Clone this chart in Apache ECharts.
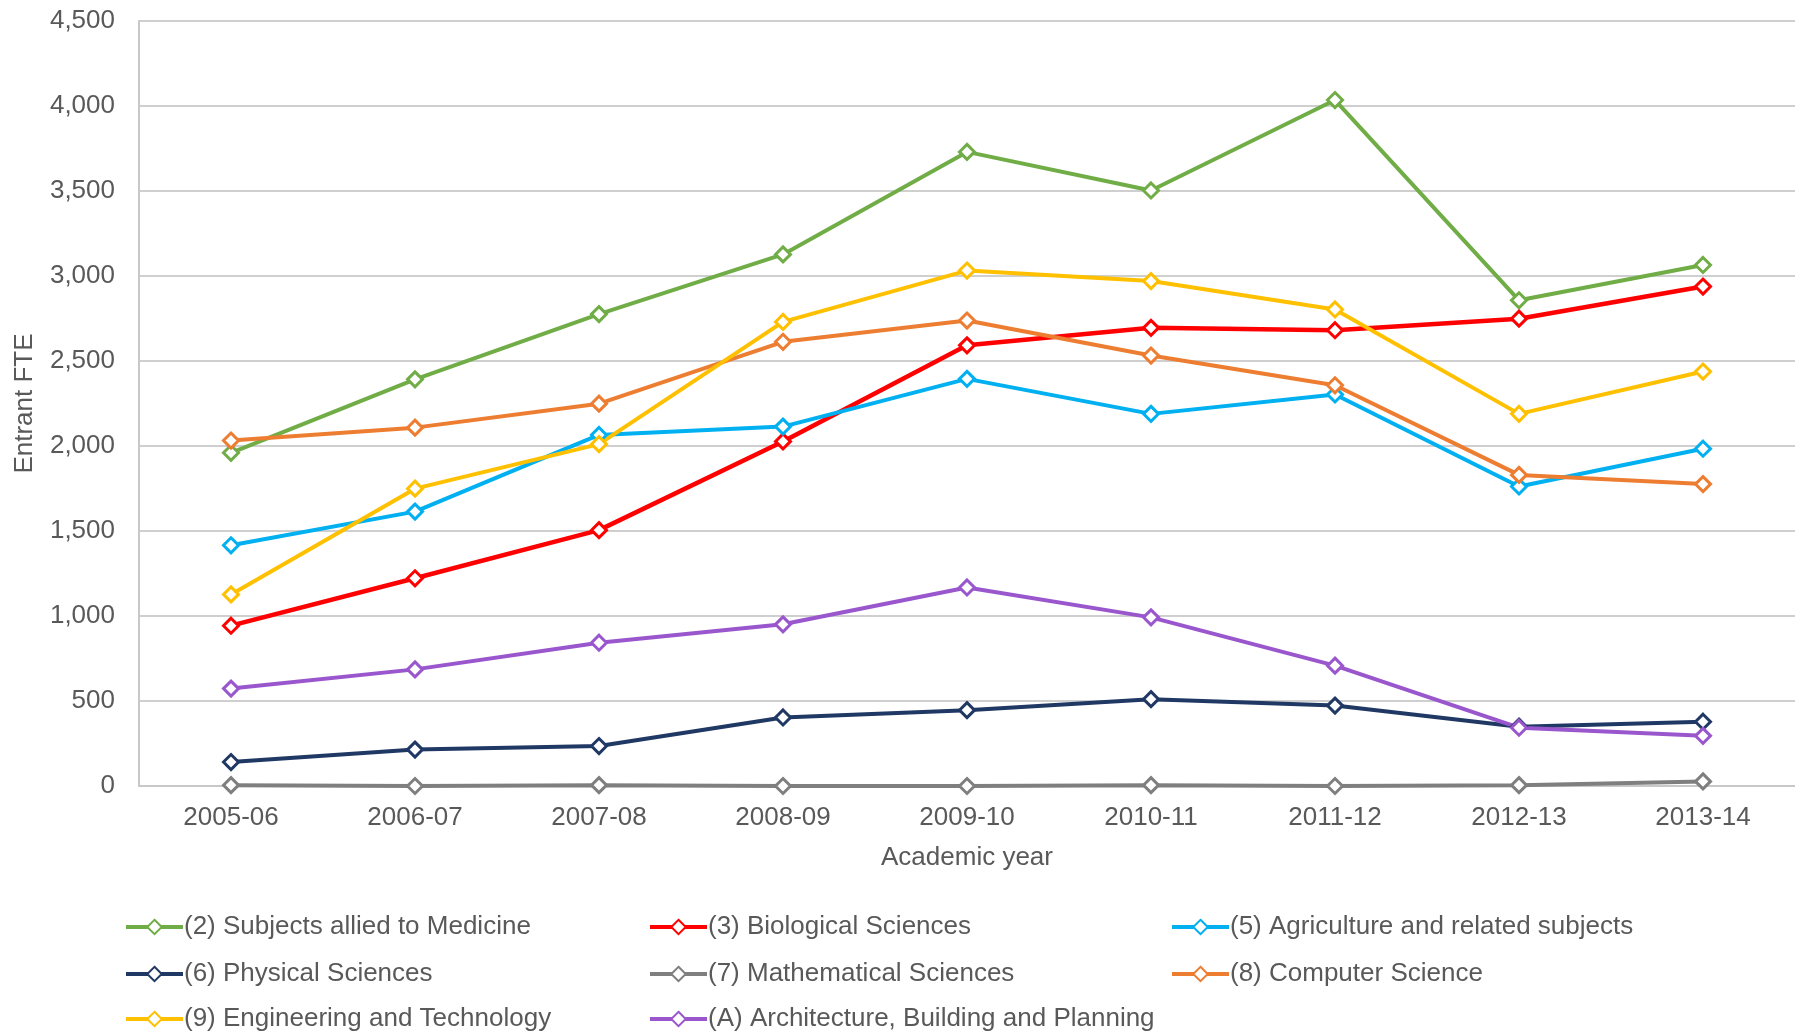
<!DOCTYPE html>
<html><head><meta charset="utf-8">
<script src="https://cdn.jsdelivr.net/npm/echarts@6/dist/echarts.min.js"></script>
<style>html,body{margin:0;padding:0;background:#fff}#c{width:1795px;height:1034px}</style>
</head><body><div id="c"></div>
<script>
const years = ['2005-06','2006-07','2007-08','2008-09','2009-10','2010-11','2011-12','2012-13','2013-14'];
const yTicks = {min: 0, max: 4500, interval: 500};
const medicine     = [1960, 2392, 2776, 3127, 3730, 3503, 4035, 2857, 3065];
const biological   = [943, 1222, 1505, 2027, 2592, 2695, 2681, 2749, 2938];
const agriculture  = [1416, 1614, 2065, 2114, 2395, 2189, 2303, 1762, 1984];
const physical     = [141, 214, 235, 403, 446, 511, 473, 349, 378];
const mathematical = [5, 0, 5, 0, 0, 5, 0, 5, 27];
const computer     = [2032, 2108, 2249, 2613, 2738, 2532, 2357, 1830, 1776];
const engineering  = [1127, 1749, 2011, 2730, 3032, 2970, 2803, 2189, 2438];
const architecture = [573, 686, 843, 951, 1168, 992, 708, 343, 295];

const names = {
  med: '(2) Subjects allied to Medicine',
  bio: '(3) Biological Sciences',
  agr: '(5) Agriculture and related subjects',
  phy: '(6) Physical Sciences',
  mat: '(7) Mathematical Sciences',
  com: '(8) Computer Science',
  eng: '(9) Engineering and Technology',
  arc: '(A) Architecture, Building and Planning'
};
const FONT = 'Liberation Sans, Arial, sans-serif';
const TXT = '#595959';
const FS = 26;
function s(name, data, color, w) {
  return {
    name, type: 'line', data,
    symbol: 'diamond', symbolSize: 15,
    lineStyle: {color, width: w || 4},
    itemStyle: {color: '#fff', borderColor: color, borderWidth: 3},
    emphasis: {disabled: true},
    animation: false
  };
}
// legend layout: [name, left, rowCenterY]
const legendSlots = [
  [names.med, 124, 929], [names.bio, 648, 929], [names.agr, 1170, 929],
  [names.phy, 124, 976], [names.mat, 648, 976], [names.com, 1170, 976],
  [names.eng, 124, 1021], [names.arc, 648, 1021]
];
const legends = legendSlots.map(([n, l, cy]) => ({
  data: [n], left: l, top: cy - 15, orient: 'horizontal',
  itemWidth: 57, itemHeight: 18, selectedMode: false, padding: 0,
  lineStyle: {width: 4},
  textStyle: {color: TXT, fontSize: FS, fontFamily: FONT, padding: [0,0,0,-4]}
}));
const chart = echarts.init(document.getElementById('c'));
chart.setOption({
  backgroundColor: '#fff',
  animation: false,
  grid: {left: 139, right: 0, top: 21, bottom: 248},
  legend: legends,
  xAxis: {
    type: 'category', data: years, boundaryGap: true,
    name: 'Academic year', nameLocation: 'middle', nameGap: 59,
    nameTextStyle: {color: TXT, fontSize: FS, fontFamily: FONT},
    axisLine: {lineStyle: {color: '#c8c8c8', width: 2}},
    axisTick: {show: false},
    axisLabel: {color: TXT, fontSize: FS, fontFamily: FONT, margin: 19}
  },
  yAxis: {
    type: 'value', min: yTicks.min, max: yTicks.max, interval: yTicks.interval,
    name: 'Entrant FTE', nameLocation: 'middle', nameGap: 101,
    nameTextStyle: {color: TXT, fontSize: FS, fontFamily: FONT},
    axisLine: {show: true, lineStyle: {color: '#c8c8c8', width: 2}},
    axisTick: {show: false},
    splitLine: {lineStyle: {color: '#cfcfcf', width: 2}},
    axisLabel: {color: TXT, fontSize: FS, fontFamily: FONT, margin: 24,
      formatter: v => v.toLocaleString('en-US')}
  },
  series: [
    s(names.med, medicine, '#70AD47'),
    s(names.bio, biological, '#FF0000', 4.5),
    s(names.agr, agriculture, '#00B0F0'),
    s(names.phy, physical, '#203864'),
    s(names.mat, mathematical, '#7F7F7F'),
    s(names.com, computer, '#ED7D31'),
    s(names.eng, engineering, '#FFC000'),
    s(names.arc, architecture, '#9A57CD')
  ]
});
</script></body></html>
